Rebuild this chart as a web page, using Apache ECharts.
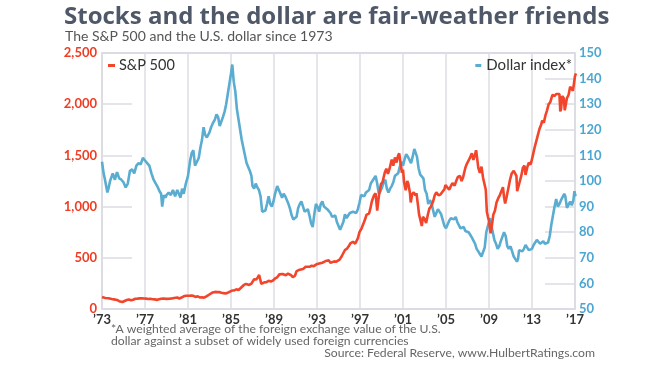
<!DOCTYPE html>
<html>
<head>
<meta charset="utf-8">
<script src="https://cdn.jsdelivr.net/npm/echarts@6/dist/echarts.min.js"></script>
<style>
html,body{margin:0;padding:0;background:#fff;}
#chart{width:660px;height:371px;}
</style>
</head>
<body>
<div id="chart"></div>
<script>
// ---- DATA ----
const startYear = 1973;
const endYear = 2017;
const leftTicks = [0, 500, 1000, 1500, 2000, 2500];
const rightTicks = [50, 60, 70, 80, 90, 100, 110, 120, 130, 140, 150];

// S&P 500 (approx. monthly level) : [decimal year, value]
const sp500 = [
[1973.0,118],[1973.3,108],[1973.6,105],[1973.9,97],[1974.1,94],[1974.4,88],[1974.6,76],[1974.75,65],[1974.9,68],
[1975.1,78],[1975.3,88],[1975.5,92],[1975.7,85],[1975.9,90],[1976.1,100],[1976.3,101],[1976.5,104],[1976.7,104],[1976.9,103],
[1977.1,101],[1977.3,98],[1977.5,100],[1977.7,96],[1977.9,94],[1978.1,89],[1978.3,95],[1978.5,100],[1978.7,102],[1978.85,94],
[1979.0,99],[1979.3,101],[1979.5,103],[1979.7,108],[1979.85,102],[1980.0,112],[1980.2,103],[1980.4,112],[1980.6,124],[1980.8,130],[1980.95,135],
[1981.1,130],[1981.3,132],[1981.5,128],[1981.7,118],[1981.9,124],[1982.1,113],[1982.3,115],[1982.5,110],[1982.6,107],[1982.75,125],[1982.95,139],
[1983.1,147],[1983.3,162],[1983.5,167],[1983.7,165],[1983.9,165],[1984.1,158],[1984.3,155],[1984.5,152],[1984.6,165],[1984.8,164],[1984.95,170],
[1985.1,180],[1985.3,181],[1985.5,192],[1985.7,184],[1985.9,205],[1986.0,211],[1986.2,235],[1986.4,245],[1986.55,240],[1986.7,235],[1986.9,248],
[1987.0,265],[1987.15,290],[1987.35,288],[1987.5,310],[1987.62,332],[1987.75,318],[1987.82,245],[1987.95,240],[1988.1,260],[1988.3,262],[1988.5,275],[1988.7,268],[1988.9,278],
[1989.1,298],[1989.3,310],[1989.5,338],[1989.65,350],[1989.8,342],[1989.95,350],[1990.1,330],[1990.3,345],[1990.45,360],[1990.6,330],[1990.75,310],[1990.95,325],
[1991.1,370],[1991.3,380],[1991.5,385],[1991.7,390],[1991.85,385],[1991.95,413],[1992.1,412],[1992.3,412],[1992.5,422],[1992.7,418],[1992.95,436],
[1993.1,442],[1993.3,447],[1993.5,452],[1993.7,462],[1993.9,472],[1994.1,475],[1994.25,450],[1994.4,452],[1994.6,465],[1994.8,462],[1994.95,458],
[1995.1,482],[1995.3,515],[1995.6,576],[1995.8,590],[1995.95,612],[1996.1,640],[1996.35,657],[1996.55,638],[1996.8,690],[1996.95,750],
[1997.15,788],[1997.3,770],[1997.45,869],[1997.6,920],[1997.75,905],[1997.85,935],[1997.95,975],[1998.1,1050],[1998.3,1110],[1998.45,1130],[1998.6,960],[1998.75,1100],[1998.95,1220],
[1999.1,1240],[1999.3,1330],[1999.45,1370],[1999.6,1320],[1999.75,1370],[1999.95,1460],[2000.1,1400],[2000.25,1480],[2000.4,1430],[2000.55,1500],[2000.65,1520],[2000.75,1440],[2000.9,1330],
[2001.0,1360],[2001.1,1240],[2001.25,1160],[2001.4,1250],[2001.5,1220],[2001.65,1130],[2001.72,1040],[2001.85,1120],[2002.0,1140],[2002.15,1110],[2002.25,1130],[2002.4,1010],[2002.5,920],[2002.6,910],[2002.75,810],[2002.85,900],
[2003.0,880],[2003.15,840],[2003.3,915],[2003.45,980],[2003.6,1000],[2003.8,1050],[2003.95,1110],[2004.1,1140],[2004.3,1110],[2004.5,1120],[2004.65,1105],[2004.85,1170],[2004.95,1210],
[2005.1,1190],[2005.3,1165],[2005.45,1200],[2005.6,1230],[2005.8,1205],[2005.95,1250],[2006.1,1290],[2006.3,1300],[2006.45,1250],[2006.6,1290],[2006.8,1380],[2006.95,1420],
[2007.1,1420],[2007.2,1470],[2007.4,1520],[2007.55,1455],[2007.7,1510],[2007.8,1550],[2007.9,1470],[2008.0,1380],[2008.15,1330],[2008.3,1390],[2008.45,1280],[2008.6,1280],[2008.7,1165],[2008.8,950],[2008.9,900],
[2009.0,860],[2009.15,740],[2009.25,800],[2009.4,920],[2009.55,960],[2009.7,1040],[2009.85,1080],[2010.0,1110],[2010.15,1150],[2010.3,1190],[2010.4,1090],[2010.5,1030],[2010.65,1100],[2010.8,1180],[2010.95,1260],
[2011.1,1320],[2011.3,1350],[2011.45,1320],[2011.55,1300],[2011.62,1150],[2011.72,1140],[2011.85,1240],[2012.0,1300],[2012.15,1380],[2012.3,1400],[2012.4,1310],[2012.55,1380],[2012.7,1430],[2012.85,1410],[2012.95,1440],
[2013.1,1510],[2013.25,1580],[2013.4,1640],[2013.55,1700],[2013.7,1760],[2013.85,1800],[2013.95,1840],[2014.1,1820],[2014.25,1890],[2014.4,1940],[2014.55,2000],[2014.7,2020],[2014.9,2090],
[2015.1,2080],[2015.25,2100],[2015.4,2106],[2015.55,2100],[2015.63,1930],[2015.7,1950],[2015.8,2080],[2015.95,2060],[2016.05,1940],[2016.12,1930],[2016.25,2060],[2016.4,2090],[2016.55,2170],[2016.7,2170],[2016.8,2130],[2016.9,2200],
[2017.0,2275],[2017.08,2300]
];

// Dollar index (major currencies) : [decimal year, value]
const dollarIndex = [
[1973.0,107.5],[1973.15,103],[1973.3,100],[1973.5,95.5],[1973.6,97],[1973.75,100],[1973.9,99.5],[1974.0,103],[1974.2,100.5],[1974.4,103.5],[1974.6,101],[1974.8,100.5],
[1975.0,99.5],[1975.2,97.5],[1975.4,99],[1975.6,104],[1975.8,104.5],[1976.0,103],[1976.2,106],[1976.4,107],[1976.6,106.5],[1976.8,109],
[1977.0,108],[1977.2,107],[1977.4,106],[1977.6,103],[1977.8,100.5],[1978.0,99],[1978.2,97.5],[1978.35,96],[1978.5,95],[1978.6,90],[1978.75,94.5],[1978.9,93.5],
[1979.0,94.5],[1979.2,95.5],[1979.4,94.5],[1979.6,96.5],[1979.8,94],[1980.0,96.5],[1980.15,95],[1980.3,93.5],[1980.45,97],[1980.6,95],[1980.8,99],
[1981.0,102],[1981.2,108],[1981.35,111],[1981.5,112],[1981.65,106],[1981.8,105.5],[1982.0,109],[1982.15,113],[1982.3,116],[1982.45,121],[1982.6,118],[1982.75,117],[1982.9,117.5],
[1983.0,119],[1983.15,121],[1983.3,122.5],[1983.5,124],[1983.65,126],[1983.8,125],[1983.95,121.5],[1984.1,122],[1984.25,125],[1984.4,127],[1984.55,130],[1984.7,134],[1984.85,138],
[1985.0,142],[1985.12,145.5],[1985.25,139],[1985.4,135],[1985.55,128],[1985.7,124],[1985.85,120],[1986.0,116],[1986.15,113],[1986.3,110],[1986.45,107],[1986.6,105.5],[1986.75,104],[1986.9,102],
[1987.0,98],[1987.15,97],[1987.3,99],[1987.45,97.5],[1987.6,96.5],[1987.75,94],[1987.9,88],[1988.05,87.5],[1988.2,88.5],[1988.35,91],[1988.5,94],[1988.65,91],[1988.8,90],[1988.95,92],
[1989.1,95],[1989.3,98],[1989.45,96.5],[1989.6,95],[1989.75,93.5],[1989.9,95],[1990.05,94],[1990.2,92.5],[1990.35,91],[1990.5,89],[1990.65,86.5],[1990.8,85],[1990.95,84.5],
[1991.1,86],[1991.25,89.5],[1991.4,91],[1991.55,92],[1991.7,90],[1991.85,88],[1992.0,87.5],[1992.15,89],[1992.3,86.5],[1992.45,83.5],[1992.6,82],[1992.75,87],[1992.9,91],
[1993.05,90],[1993.2,88],[1993.35,91],[1993.5,92],[1993.65,90],[1993.8,90.5],[1993.95,89],[1994.1,89.5],[1994.25,87.5],[1994.4,86],[1994.55,85.5],[1994.7,86.5],[1994.85,84],
[1995.0,83.5],[1995.15,81],[1995.3,80.5],[1995.45,84],[1995.6,87],[1995.75,85.5],[1995.9,86.5],[1996.05,87.5],[1996.2,87],[1996.35,88],[1996.5,88],[1996.65,87.5],[1996.8,89],[1996.95,91.5],
[1997.1,94.5],[1997.25,95],[1997.4,94],[1997.55,95.5],[1997.7,95],[1997.85,96.5],[1998.0,99],[1998.15,100],[1998.3,101],[1998.45,102],[1998.6,99],[1998.75,95],[1998.9,96],
[1999.05,97.5],[1999.2,99.5],[1999.35,100.5],[1999.5,97],[1999.65,95.5],[1999.8,97],[1999.95,98],[2000.1,99.5],[2000.25,102],[2000.4,101.5],[2000.55,103],[2000.7,105.5],[2000.85,107.5],
[2001.0,106],[2001.15,108.5],[2001.3,110.5],[2001.45,109.5],[2001.6,110],[2001.75,107],[2001.9,109.5],[2002.05,112.5],[2002.15,112],[2002.3,109.5],[2002.45,105],[2002.6,102.5],[2002.75,103],[2002.9,101],
[2003.05,96.5],[2003.2,95],[2003.35,91],[2003.5,92.5],[2003.65,91.5],[2003.8,88.5],[2003.95,86],[2004.1,87.5],[2004.25,89],[2004.4,88.5],[2004.55,87],[2004.7,86.5],[2004.85,82.5],
[2005.0,81.5],[2005.15,83],[2005.3,84.5],[2005.45,85.5],[2005.6,86],[2005.75,85],[2005.9,86],[2006.05,84],[2006.2,83.5],[2006.35,81.5],[2006.5,81.5],[2006.65,82],[2006.8,80.5],[2006.95,80.5],
[2007.1,80],[2007.25,79],[2007.4,78],[2007.55,77.5],[2007.7,75.5],[2007.85,73.5],[2008.0,72.5],[2008.15,71.5],[2008.3,70.5],[2008.45,70.8],[2008.6,74],[2008.75,80],[2008.9,82.5],
[2009.0,84],[2009.1,85.5],[2009.2,83],[2009.35,80],[2009.5,77],[2009.65,75.5],[2009.8,73.5],[2009.95,74.5],[2010.1,76.5],[2010.25,77],[2010.4,80],[2010.55,78.5],[2010.7,74.5],[2010.85,73.5],
[2011.0,74.5],[2011.15,72.5],[2011.3,70.5],[2011.45,69.5],[2011.6,68.5],[2011.7,69.5],[2011.8,73],[2011.95,73.5],[2012.1,72.5],[2012.25,73.5],[2012.4,75],[2012.55,74.5],[2012.7,73],[2012.85,73.5],
[2013.0,73.5],[2013.15,75],[2013.3,76],[2013.45,77],[2013.6,76.5],[2013.75,75.5],[2013.9,76],[2014.05,76.5],[2014.2,75.5],[2014.35,75.5],[2014.5,76],[2014.65,78.5],[2014.8,83],[2014.95,86.5],
[2015.1,90],[2015.25,93],[2015.4,90],[2015.55,91],[2015.7,92.5],[2015.85,92],[2016.0,95],[2016.1,94],[2016.25,89.5],[2016.4,90],[2016.55,92],[2016.7,90.5],[2016.85,92.5],[2016.95,96],[2017.05,94]
];

// ---- CHART ----
const RED = '#f2452b';
const BLUE = '#5aacd0';
const toX = d => [d[0] - startYear, d[1]];
const FONT = 'Lato';
const TFONT = 'Open Sans';

const chart = echarts.init(document.getElementById('chart'), null, {renderer: 'canvas'});
chart.setOption({
  animation: false,
  backgroundColor: '#fff',
  textStyle: {fontFamily: FONT},
  title: [
    {text: 'Stocks and the dollar are fair-weather friends', left: 64, top: 5, padding: 0,
     textStyle: {fontFamily: TFONT, fontSize: 24, fontWeight: 'bold', color: '#4f5868'}},
    {text: 'The S&P 500 and the U.S. dollar since 1973', left: 65, top: 29, padding: 0,
     textStyle: {fontFamily: FONT, fontSize: 14, fontWeight: 'normal', color: '#555'}},
    {text: '*A weighted average of the foreign exchange value of the U.S.', left: 111, top: 323, padding: 0,
     textStyle: {fontFamily: FONT, fontSize: 12.2, fontWeight: 'normal', color: '#666'}},
    {text: 'dollar against a subset of widely used foreign currencies', left: 111, top: 335, padding: 0,
     textStyle: {fontFamily: FONT, fontSize: 12.2, fontWeight: 'normal', color: '#666'}},
    {text: 'Source: Federal Reserve, www.HulbertRatings.com', right: 65, top: 347, padding: 0,
     textStyle: {fontFamily: FONT, fontSize: 12.2, fontWeight: 'normal', color: '#666'}}
  ],
  legend: [
    {data: ['S&P 500'], left: 108, top: 58, padding: 0, icon: 'rect', itemWidth: 7, itemHeight: 3, itemGap: 4,
     textStyle: {fontFamily: FONT, fontSize: 14.5, color: '#333', padding: [0, 0, 0, -1]}},
    {data: ['Dollar index*'], right: 88, top: 58, padding: 0, icon: 'rect', itemWidth: 6, itemHeight: 3,
     textStyle: {fontFamily: FONT, fontSize: 15, color: '#333'}}
  ],
  grid: {left: 102, right: 85, top: 53, bottom: 62, show: true, borderColor: '#cfd0da', borderWidth: 1.5, containLabel: false},
  xAxis: {
    type: 'value', min: 0, max: endYear - startYear, interval: 4,
    axisLine: {show: false}, axisTick: {show: false},
    splitLine: {show: true, lineStyle: {color: '#dcdde3', width: 1.5}},
    axisLabel: {
      margin: 4, color: '#333', fontFamily: FONT, fontSize: 13, fontWeight: 'bold',
      formatter: v => '\u2019' + String((startYear + v) % 100).padStart(2, '0')
    }
  },
  yAxis: [
    {type: 'value', min: leftTicks[0], max: leftTicks[leftTicks.length - 1], interval: 500, position: 'left',
     axisLine: {show: false}, splitLine: {show: false},
     axisTick: {show: true, inside: true, length: 30, lineStyle: {color: '#dcdde3', width: 1.5}},
     axisLabel: {margin: 5, color: '#f03c22', fontFamily: FONT, fontSize: 13, fontWeight: 'bold',
       formatter: v => v.toLocaleString('en-US')}},
    {type: 'value', min: rightTicks[0], max: rightTicks[rightTicks.length - 1], interval: 10, position: 'right',
     axisLine: {show: false}, splitLine: {show: false},
     axisTick: {show: true, inside: true, length: 30, lineStyle: {color: '#dcdde3', width: 1.5}},
     axisLabel: {margin: 4, color: '#4aa6d2', fontFamily: FONT, fontSize: 13, fontWeight: 'bold'}}
  ],
  series: [
    {name: 'Dollar index*', type: 'line', yAxisIndex: 1, showSymbol: false, symbol: 'none',
     data: dollarIndex.map(toX), lineStyle: {color: BLUE, width: 2.6}, itemStyle: {color: BLUE}},
    {name: 'S&P 500', type: 'line', yAxisIndex: 0, showSymbol: false, symbol: 'none',
     data: sp500.map(toX), lineStyle: {color: RED, width: 2.6}, itemStyle: {color: RED}}
  ]
});
</script>
</body>
</html>
